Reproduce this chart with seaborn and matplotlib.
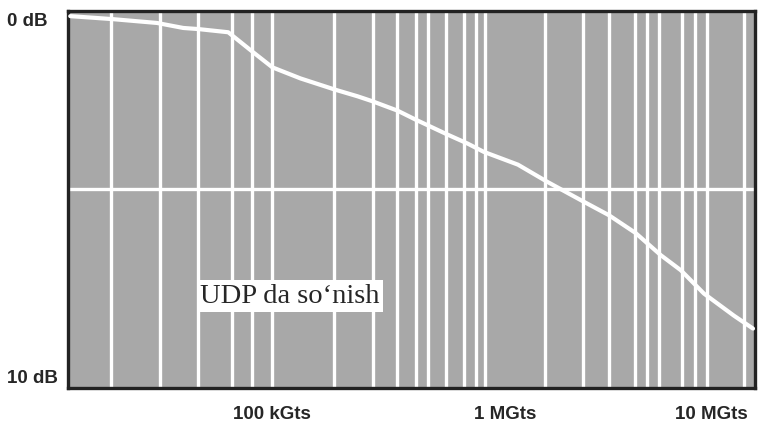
import matplotlib
matplotlib.use("Agg")
import pandas as pd
import matplotlib.pyplot as plt
import seaborn as sns

# attenuation curve
freq = [13.6e3, 20.4e3, 32e3, 41.5e3, 48e3, 64.7e3, 82.8e3, 100e3, 132e3, 185e3,
        232e3, 269e3, 344e3, 411e3, 564e3, 687e3, 805e3, 1.13e6, 1.51e6, 2.10e6,
        2.77e6, 3.61e6, 4.63e6, 5.64e6, 7.08e6, 9.53e6, 11.5e6]
loss_db = [-0.08, 0.0, 0.11, 0.25, 0.28, 0.37, 0.93, 1.35, 1.66, 1.97,
           2.16, 2.30, 2.56, 2.81, 3.23, 3.48, 3.71, 4.07, 4.55, 5.06,
           5.48, 5.98, 6.60, 7.02, 7.67, 8.29, 8.65]

# irregular vertical grid lines
grid_freq = [20.4e3, 33e3, 48e3, 67e3, 82e3, 100e3, 183e3, 269e3, 344e3, 411e3,
             467e3, 558e3, 660e3, 743e3, 813e3, 1.47e6, 2.14e6, 2.77e6, 3.58e6,
             4.03e6, 4.54e6, 5.69e6, 6.47e6, 7.29e6, 10.5e6]
grid_db = 4.75

x_ticks = [1e5, 1e6, 7.6e6]
x_labels = ["100 kGts", "1 MGts", "10 MGts"]
y_ticks = [0, 10]
y_labels = ["0 dB", "10 dB"]
label_text = "UDP da so\u2018nish"

df = pd.DataFrame({"freq": freq, "loss": loss_db})

sns.set_style("white", {"axes.facecolor": "#a8a8a8"})
plt.rcParams["font.family"] = ["Liberation Sans", "DejaVu Sans"]

fig = plt.figure(figsize=(7.58, 4.22), dpi=100)
ax = fig.add_axes([0.0897, 0.0806, 0.906, 0.893])

for f in grid_freq:
    ax.axvline(f, color="white", lw=2.4, zorder=1)
ax.axhline(grid_db, color="white", lw=2.4, zorder=1)

sns.lineplot(data=df, x="freq", y="loss", color="white", lw=3, ax=ax, zorder=3)

ax.set_xscale("log")
ax.set_xlim(13.3e3, 11.7e6)
ax.set_ylim(10.31, -0.22)

ax.set_xticks(x_ticks)
ax.set_xticklabels(x_labels, fontsize=13.5, fontweight="bold")
ax.xaxis.set_minor_locator(plt.NullLocator())
ax.set_yticks(y_ticks)
ax.set_yticklabels(y_labels, fontsize=13.5, fontweight="bold")
ax.tick_params(axis="x", length=0, pad=13)
ax.tick_params(axis="y", length=0, pad=44)
for lab in ax.get_yticklabels():
    lab.set_horizontalalignment("left")
ax.set_xlabel("")
ax.set_ylabel("")

for s in ax.spines.values():
    s.set_color("#222222")
    s.set_linewidth(2.4)

ax.text(49e3, 7.74, label_text, fontsize=20.5, family=["Liberation Serif", "DejaVu Serif"],
        ha="left", va="center", zorder=4,
        bbox=dict(boxstyle="square,pad=0.12", facecolor="white", edgecolor="none"))

plt.savefig("out.png", dpi=100)
